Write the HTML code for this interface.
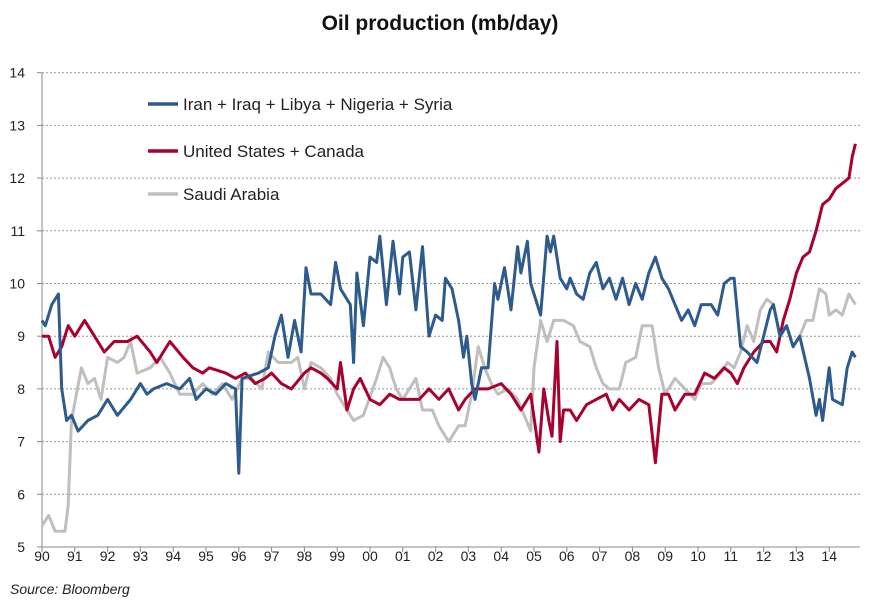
<!DOCTYPE html>
<html><head><meta charset="utf-8"><style>
body{margin:0;background:#fff;font-family:"Liberation Sans",sans-serif;}
svg text{font-family:"Liberation Sans",sans-serif;}
</style></head><body>
<svg id="chart" width="877" height="606" viewBox="0 0 877 606" xmlns="http://www.w3.org/2000/svg">
<text x="440" y="30" text-anchor="middle" font-size="21" font-weight="bold" fill="#111">Oil production (mb/day)</text>
<g id="grid"></g><g id="axes"></g><g id="series"></g>
<g>
<line x1="148" y1="104" x2="178" y2="104" stroke="#2e5b8e" stroke-width="3.5"/>
<text x="183" y="110" font-size="17" fill="#222">Iran + Iraq + Libya + Nigeria + Syria</text>
<line x1="148" y1="151" x2="178" y2="151" stroke="#a8002f" stroke-width="3.5"/>
<text x="183" y="157" font-size="17" fill="#222">United States + Canada</text>
<line x1="148" y1="194" x2="178" y2="194" stroke="#bfbfbf" stroke-width="3.5"/>
<text x="183" y="200" font-size="17" fill="#222">Saudi Arabia</text>
</g>
<text x="10" y="594" font-size="14" font-style="italic" fill="#222">Source: Bloomberg</text>
</svg>
<script>
const yTicks=[5,6,7,8,9,10,11,12,13,14];
const xTickLabels=["90","91","92","93","94","95","96","97","98","99","00","01","02","03","04","05","06","07","08","09","10","11","12","13","14"];
const blueT=[1990.0,1990.1,1990.3,1990.5,1990.6,1990.75,1990.9,1991.1,1991.4,1991.7,1992.0,1992.3,1992.7,1993.0,1993.2,1993.4,1993.8,1994.2,1994.5,1994.7,1995.0,1995.3,1995.6,1995.9,1996.0,1996.1,1996.6,1996.9,1997.1,1997.3,1997.5,1997.7,1997.9,1998.05,1998.2,1998.5,1998.8,1998.95,1999.1,1999.3,1999.4,1999.5,1999.6,1999.8,2000.0,2000.2,2000.3,2000.5,2000.7,2000.9,2001.0,2001.2,2001.4,2001.6,2001.8,2002.0,2002.2,2002.3,2002.5,2002.7,2002.85,2002.95,2003.1,2003.2,2003.4,2003.6,2003.8,2003.9,2004.1,2004.3,2004.5,2004.6,2004.8,2004.9,2005.2,2005.4,2005.5,2005.6,2005.8,2006.0,2006.1,2006.3,2006.5,2006.7,2006.9,2007.1,2007.3,2007.5,2007.7,2007.9,2008.1,2008.3,2008.5,2008.7,2008.9,2009.1,2009.3,2009.5,2009.7,2009.9,2010.1,2010.4,2010.6,2010.8,2011.0,2011.1,2011.3,2011.5,2011.8,2012.0,2012.2,2012.3,2012.5,2012.7,2012.9,2013.1,2013.4,2013.6,2013.7,2013.8,2014.0,2014.1,2014.4,2014.55,2014.7,2014.8];
const blueV=[9.3,9.2,9.6,9.8,8.0,7.4,7.5,7.2,7.4,7.5,7.8,7.5,7.8,8.1,7.9,8.0,8.1,8.0,8.2,7.8,8.0,7.9,8.1,8.0,6.4,8.2,8.3,8.4,9.0,9.4,8.6,9.3,8.7,10.3,9.8,9.8,9.6,10.4,9.9,9.7,9.6,8.5,10.2,9.2,10.5,10.4,10.9,9.6,10.8,9.8,10.5,10.6,9.5,10.7,9.0,9.4,9.3,10.1,9.9,9.3,8.6,9.0,8.1,7.8,8.4,8.4,10.0,9.7,10.3,9.5,10.7,10.2,10.8,10.0,9.4,10.9,10.6,10.9,10.1,9.9,10.1,9.8,9.7,10.2,10.4,9.9,10.1,9.7,10.1,9.6,10.0,9.7,10.2,10.5,10.1,9.9,9.6,9.3,9.5,9.2,9.6,9.6,9.4,10.0,10.1,10.1,8.8,8.7,8.5,9.0,9.5,9.6,9.0,9.2,8.8,9.0,8.2,7.5,7.8,7.4,8.4,7.8,7.7,8.4,8.7,8.6];
const redT=[1990.0,1990.2,1990.4,1990.6,1990.8,1991.0,1991.3,1991.6,1991.9,1992.2,1992.6,1992.9,1993.3,1993.5,1993.9,1994.3,1994.6,1994.9,1995.1,1995.6,1995.9,1996.2,1996.5,1996.8,1997.0,1997.3,1997.6,1998.0,1998.2,1998.5,1998.7,1999.0,1999.1,1999.3,1999.5,1999.7,2000.0,2000.3,2000.6,2000.9,2001.2,2001.5,2001.8,2002.1,2002.4,2002.7,2002.9,2003.2,2003.6,2004.0,2004.3,2004.6,2004.9,2005.15,2005.3,2005.45,2005.55,2005.7,2005.8,2005.9,2006.1,2006.3,2006.6,2006.9,2007.2,2007.4,2007.6,2007.9,2008.2,2008.5,2008.7,2008.9,2009.1,2009.3,2009.6,2009.9,2010.2,2010.5,2010.8,2011.0,2011.2,2011.4,2011.7,2012.0,2012.2,2012.4,2012.6,2012.8,2013.0,2013.2,2013.4,2013.6,2013.8,2014.0,2014.2,2014.4,2014.6,2014.7,2014.8];
const redV=[9.0,9.0,8.6,8.8,9.2,9.0,9.3,9.0,8.7,8.9,8.9,9.0,8.7,8.5,8.9,8.6,8.4,8.3,8.4,8.3,8.2,8.3,8.1,8.2,8.3,8.1,8.0,8.3,8.4,8.3,8.2,8.0,8.5,7.6,8.0,8.2,7.8,7.7,7.9,7.8,7.8,7.8,8.0,7.8,8.0,7.6,7.8,8.0,8.0,8.1,7.9,7.6,7.9,6.8,8.0,7.4,7.1,8.9,7.0,7.6,7.6,7.4,7.7,7.8,7.9,7.6,7.8,7.6,7.8,7.7,6.6,7.9,7.9,7.6,7.9,7.9,8.3,8.2,8.4,8.3,8.1,8.4,8.7,8.9,8.9,8.7,9.3,9.7,10.2,10.5,10.6,11.0,11.5,11.6,11.8,11.9,12.0,12.4,12.65];
const grayT=[1990.0,1990.2,1990.4,1990.7,1990.8,1990.9,1991.2,1991.4,1991.6,1991.8,1992.0,1992.3,1992.5,1992.7,1992.9,1993.3,1993.6,1993.9,1994.2,1994.6,1994.9,1995.2,1995.5,1995.8,1996.1,1996.4,1996.7,1996.9,1997.2,1997.6,1997.8,1998.0,1998.2,1998.5,1998.8,1999.0,1999.3,1999.5,1999.8,2000.2,2000.4,2000.6,2000.8,2001.0,2001.4,2001.6,2001.9,2002.1,2002.4,2002.7,2002.9,2003.1,2003.3,2003.5,2003.7,2003.9,2004.2,2004.5,2004.7,2004.9,2005.0,2005.2,2005.4,2005.6,2005.9,2006.2,2006.4,2006.7,2006.9,2007.1,2007.3,2007.6,2007.8,2008.1,2008.3,2008.6,2008.8,2009.0,2009.3,2009.6,2009.9,2010.1,2010.4,2010.7,2010.9,2011.1,2011.3,2011.5,2011.7,2011.9,2012.1,2012.3,2012.5,2012.7,2012.9,2013.1,2013.3,2013.5,2013.7,2013.9,2014.0,2014.2,2014.4,2014.6,2014.8];
const grayV=[5.4,5.6,5.3,5.3,5.8,7.4,8.4,8.1,8.2,7.8,8.6,8.5,8.6,8.9,8.3,8.4,8.6,8.3,7.9,7.9,8.1,7.9,8.1,7.8,8.2,8.2,8.0,8.7,8.5,8.5,8.6,8.0,8.5,8.4,8.2,7.9,7.6,7.4,7.5,8.2,8.6,8.4,8.0,7.8,8.2,7.6,7.6,7.3,7.0,7.3,7.3,7.9,8.8,8.4,8.1,7.9,8.0,7.8,7.5,7.2,8.4,9.3,8.9,9.3,9.3,9.2,8.9,8.8,8.4,8.1,8.0,8.0,8.5,8.6,9.2,9.2,8.4,7.9,8.2,8.0,7.8,8.1,8.1,8.3,8.5,8.4,8.7,9.2,8.9,9.5,9.7,9.6,9.0,9.2,8.8,9.0,9.3,9.3,9.9,9.8,9.4,9.5,9.4,9.8,9.6];
const NS="http://www.w3.org/2000/svg";
const X0=42,XW=32.8,Y0=547,YH=52.7,XR=860;
const xs=t=>X0+(t-1990)*XW, ys=v=>Y0-(v-5)*YH;
function mk(tag,attrs,parent){const e=document.createElementNS(NS,tag);for(const k in attrs)e.setAttribute(k,attrs[k]);parent.appendChild(e);return e;}
const grid=document.getElementById('grid'),axes=document.getElementById('axes'),ser=document.getElementById('series');
yTicks.forEach(v=>{
  if(v>5){const g=mk('line',{x1:X0,x2:XR,y1:ys(v),y2:ys(v),stroke:'#999','stroke-dasharray':'2,2','stroke-width':1},grid);
  
  }
  const tk=mk('line',{x1:X0-5,x2:X0,y1:ys(v),y2:ys(v),stroke:'#888'},axes);
  
  
  const t=mk('text',{x:25,y:ys(v)+5,'text-anchor':'end','font-size':14,fill:'#222'},axes);t.textContent=v;
  
  
});
const ya=mk('line',{x1:X0,x2:X0,y1:ys(14),y2:Y0,stroke:'#888'},axes);


const xa=mk('line',{x1:X0,x2:XR,y1:Y0,y2:Y0,stroke:'#888'},axes);


xTickLabels.forEach((l,i)=>{
  const x=xs(1990+i);
  const tk=mk('line',{x1:x,x2:x,y1:Y0,y2:Y0+5,stroke:'#888'},axes);
  
  
  const t=mk('text',{x:x,y:Y0+14,'text-anchor':'middle','font-size':14,fill:'#222'},axes);t.textContent=l;
  
  
});
function line(T,V,col,name){
  const d=T.map((t,i)=>(i?'L':'M')+xs(t).toFixed(1)+','+ys(V[i]).toFixed(1)).join('');
  const p=mk('path',{d:d,fill:'none',stroke:col,'stroke-width':3,'stroke-linejoin':'round'},ser);
  
  
}
line(grayT,grayV,'#bfbfbf','series-saudi-arabia');
line(redT,redV,'#a8002f','series-us-canada');
line(blueT,blueV,'#2e5b8e','series-iran-group');
</script>
</body></html>
